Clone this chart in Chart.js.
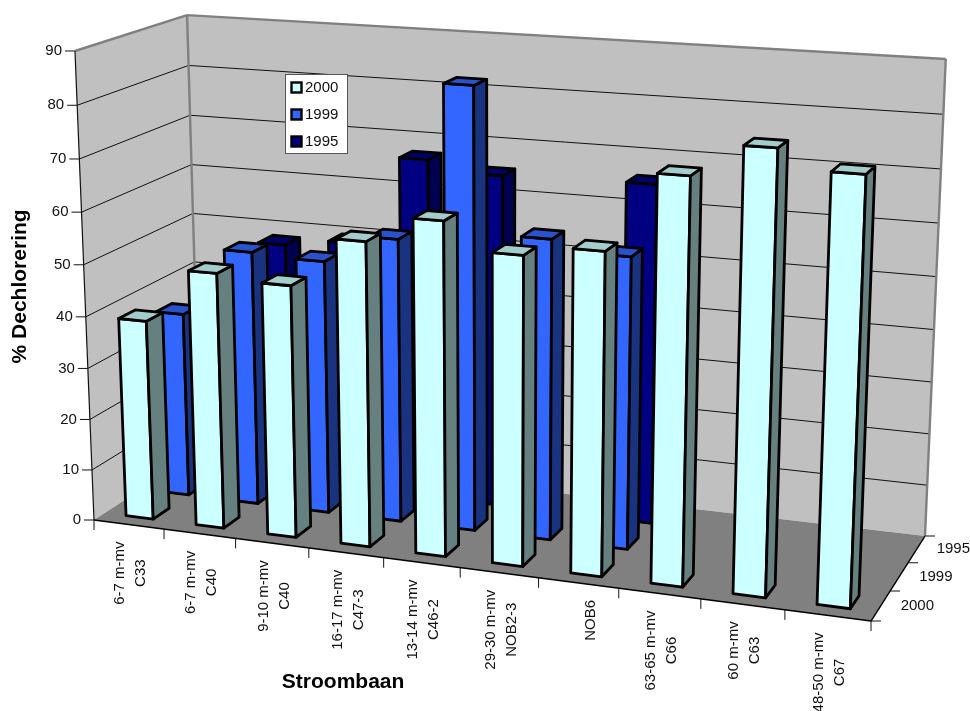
<!DOCTYPE html>
<html>
<head>
<meta charset="utf-8">
<title>Dechlorering per stroombaan</title>
<style>
  html, body { margin: 0; padding: 0; background: #fff; overflow: hidden; }
  canvas { display: block; }
</style>
<script src="https://cdn.jsdelivr.net/npm/chart.js@4"></script>
</head>
<body>
<canvas id="chart" width="970" height="711"></canvas>
<script>
const categories = [
  ["6-7 m-mv", "C33"], ["6-7 m-mv", "C40"], ["9-10 m-mv", "C40"],
  ["16-17 m-mv", "C47-3"], ["13-14 m-mv", "C46-2"], ["29-30 m-mv", "NOB2-3"],
  ["", "NOB6"], ["63-65 m-mv", "C66"], ["60 m-mv", "C63"], ["48-50 m-mv", "C67"]
];
const series = ["2000", "1999", "1995"];
const values2000 = [39, 49.5, 48.5, 58, 63, 58, 60, 74.5, 80.4, 77];
const values1999 = [36.5, 50, 49.5, 55, 84.7, 57.5, 55.5, null, null, null];
const values1995 = [null, 48, 49.5, 67, 65, null, 65.6, null, null, null];

const frontColors = ["#CCFFFF", "#3366FF", "#000080"];
const sideColors = ["#668080", "#1A3380", "#000050"];
const topColors = ["#A3CCCC", "#2952CC", "#000066"];

const FONT = '"Liberation Sans", Arial, sans-serif';
const INK = "#111";

// Perspective camera: u along the categories, v into the depth, w up the value axis (all 0..1).
function project(u, v, w) {
  const d = 1 - 0.10843 * u + 0.0798 * v - 0.045 * w;
  return {
    x: (682.56 * u + 121.96 * v - 22.4 * w + 94) / d,
    y: (33.67 * u - 33.01 * v - 471.3 * w + 5.3 * u * w + 520) / d
  };
}

function path(ctx, pts) {
  ctx.beginPath();
  pts.forEach((p, i) => (i ? ctx.lineTo(p.x, p.y) : ctx.moveTo(p.x, p.y)));
}
function polygon(ctx, pts, fill) {
  path(ctx, pts);
  ctx.closePath();
  ctx.fillStyle = fill;
  ctx.fill();
}
function segment(ctx, a, b, color, width) {
  path(ctx, [a, b]);
  ctx.strokeStyle = color;
  ctx.lineWidth = width;
  ctx.stroke();
}

// Bars are laid out by the stock bar controller and drawn as boxes in the projected space.
class Bar3DController extends Chart.BarController {
  draw() {
    const ctx = this.chart.ctx;
    const meta = this.getMeta();
    const xs = this._cachedMeta.xScale, ys = this._cachedMeta.yScale;
    const row = this.index;
    const rowDepth = 1 / series.length;
    const v0 = (row + 0.29) * rowDepth;
    const v1 = (row + 0.73) * rowDepth;
    ctx.save();
    ctx.lineJoin = "round";
    meta.data.forEach((bar, i) => {
      if (this.getParsed(i).y == null || isNaN(this.getParsed(i).y)) return;
      const u0 = (bar.x - bar.width / 2 - xs.left) / xs.width;
      const u1 = (bar.x + bar.width / 2 - xs.left) / xs.width;
      const w = (ys.bottom - bar.y) / ys.height;
      const faces = [
        [[[u0, v0, 0], [u1, v0, 0], [u1, v0, w], [u0, v0, w]], frontColors[row]],
        [[[u1, v0, 0], [u1, v1, 0], [u1, v1, w], [u1, v0, w]], sideColors[row]],
        [[[u0, v0, w], [u1, v0, w], [u1, v1, w], [u0, v1, w]], topColors[row]]
      ];
      faces.forEach(([corners, color]) => {
        const pts = corners.map(c => project(c[0], c[1], c[2]));
        polygon(ctx, pts, color);
        ctx.strokeStyle = "#000";
        ctx.lineWidth = 2.8;
        ctx.stroke();
      });
    });
    ctx.restore();
  }
}
Bar3DController.id = "bar3d";
Bar3DController.defaults = Chart.BarController.defaults;
Chart.register(Bar3DController);

// Walls, floor, grid, tick marks and tick labels behind the bars.
const stagePlugin = {
  id: "stage",
  beforeDatasetsDraw(chart) {
    const ctx = chart.ctx, xs = chart.scales.x, ys = chart.scales.y;
    const A = project(0, 0, 0), B = project(1, 0, 0), C = project(0, 1, 0), D = project(1, 1, 0);
    const At = project(0, 0, 1), Ct = project(0, 1, 1), Dt = project(1, 1, 1);
    ctx.save();
    polygon(ctx, [A, C, Ct, At], "#C0C0C0");
    polygon(ctx, [C, D, Dt, Ct], "#C0C0C0");
    polygon(ctx, [A, B, D, C], "#808080");

    ctx.font = "15px " + FONT;
    ctx.fillStyle = INK;

    // value grid and value axis
    ys.ticks.forEach(t => {
      const w = (ys.bottom - ys.getPixelForValue(t.value)) / ys.height;
      const a = project(0, 0, w), b = project(0, 1, w), c = project(1, 1, w);
      if (t.value > ys.min && t.value < ys.max) {
        segment(ctx, a, b, INK, 1);
        segment(ctx, b, c, INK, 1);
      }
      segment(ctx, { x: a.x - 10, y: a.y }, a, INK, 1);
      ctx.textAlign = "right";
      ctx.textBaseline = "middle";
      ctx.fillStyle = INK;
      ctx.fillText(String(t.value), a.x - 13, a.y);
    });

    segment(ctx, At, Ct, "#808080", 2.4);
    segment(ctx, Ct, Dt, "#808080", 2.4);
    segment(ctx, Ct, C, "#808080", 2.4);
    segment(ctx, Dt, D, "#808080", 2.4);
    segment(ctx, A, At, INK, 1.2);
    segment(ctx, A, B, "#000", 1.4);
    segment(ctx, B, D, "#000", 1.4);

    // category ticks and stacked rotated labels
    const n = categories.length;
    for (let i = 0; i <= n; i++) {
      const p = project(i / n, 0, 0);
      segment(ctx, p, { x: p.x, y: p.y + 10 }, INK, 1);
    }
    categories.forEach((lines, i) => {
      const u = (xs.getPixelForValue(i) - xs.left) / xs.width;
      const p = project(u, 0, 0);
      const longest = Math.max(...lines.map(l => ctx.measureText(l).width));
      ctx.save();
      ctx.translate(p.x + 2, p.y + 17 + longest / 2);
      ctx.rotate(-Math.PI / 2);
      ctx.textAlign = "center";
      ctx.textBaseline = "middle";
      ctx.fillStyle = INK;
      lines.forEach((l, k) => ctx.fillText(l, 0, (k - (lines.length - 1) / 2) * 21));
      ctx.restore();
    });

    // series axis on the right-hand floor edge
    const m = series.length;
    for (let i = 0; i <= m; i++) {
      const p = project(1, i / m, 0);
      segment(ctx, p, { x: p.x + 10, y: p.y }, INK, 1);
    }
    series.forEach((s, i) => {
      const p = project(1, (i + 0.5) / m, 0);
      ctx.textAlign = "left";
      ctx.textBaseline = "middle";
      ctx.fillStyle = INK;
      ctx.fillText(s, p.x + 20, p.y);
    });
    ctx.restore();
  },
  afterDatasetsDraw(chart) {
    // legend panel
    const ctx = chart.ctx;
    ctx.save();
    ctx.fillStyle = "#fff";
    ctx.strokeStyle = "#555";
    ctx.lineWidth = 1;
    ctx.fillRect(285, 74, 63, 80);
    ctx.strokeRect(285.5, 74.5, 62, 79);
    ctx.font = "15px " + FONT;
    ctx.textBaseline = "middle";
    ctx.textAlign = "left";
    chart.data.datasets.forEach((ds, i) => {
      const cy = 87.5 + i * 27;
      ctx.fillStyle = frontColors[i];
      ctx.fillRect(291.5, cy - 5, 10, 10);
      ctx.strokeStyle = "#000";
      ctx.lineWidth = 2.4;
      ctx.strokeRect(291.5, cy - 5, 10, 10);
      ctx.fillStyle = INK;
      ctx.fillText(ds.label, 305, cy);
    });
    ctx.restore();
  }
};

new Chart(document.getElementById("chart"), {
  type: "bar3d",
  data: {
    labels: categories,
    datasets: [
      { label: series[0], data: values2000, backgroundColor: frontColors[0], clip: false },
      { label: series[1], data: values1999, backgroundColor: frontColors[1], clip: false },
      { label: series[2], data: values1995, backgroundColor: frontColors[2], clip: false }
    ]
  },
  plugins: [stagePlugin],
  options: {
    responsive: false,
    animation: false,
    layout: { padding: { left: 0, right: 325, top: 48, bottom: 16 } },
    datasets: { bar3d: { grouped: false, barPercentage: 0.39, categoryPercentage: 1 } },
    plugins: { legend: { display: false }, tooltip: { enabled: false } },
    scales: {
      x: {
        type: "category",
        offset: true,
        grid: { display: false },
        border: { display: false },
        ticks: { display: false },
        title: {
          display: true, text: "Stroombaan", color: "#000",
          font: { family: FONT, size: 21, weight: "bold" },
          padding: { top: 137, bottom: 0 }
        }
      },
      y: {
        type: "linear",
        min: 0, max: 90,
        grid: { display: false },
        border: { display: false },
        ticks: { display: false, stepSize: 10 },
        title: {
          display: true, text: "% Dechlorering", color: "#000",
          font: { family: FONT, size: 21, weight: "bold" },
          padding: { top: 8, bottom: 0 }
        }
      }
    }
  }
});
</script>
</body>
</html>
